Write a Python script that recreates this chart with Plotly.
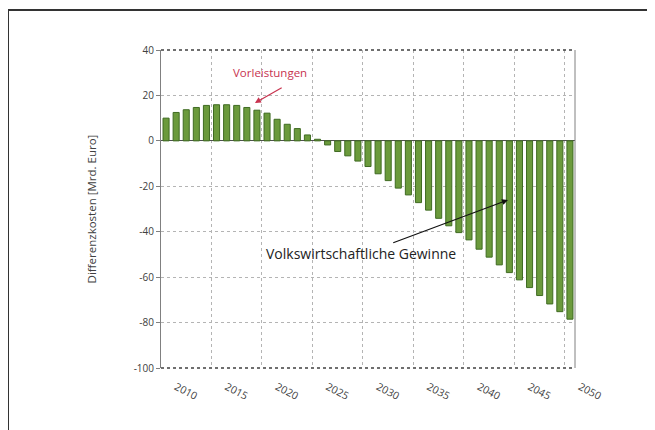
import plotly.graph_objects as go

years = list(range(2010, 2051))
values = [10.0, 12.5, 13.7, 14.7, 15.6, 15.9, 15.9, 15.6, 14.7, 13.5,
          12.2, 9.5, 7.3, 5.4, 2.6, 0.7, -1.8, -4.7, -6.6, -8.9,
          -11.3, -14.5, -17.5, -20.8, -23.8, -27.2, -30.5, -34.1, -37.4, -40.4,
          -43.6, -47.7, -51.2, -54.6, -58.0, -61.2, -64.6, -68.1, -71.8, -75.2,
          -78.5]
tick_years = [2010, 2015, 2020, 2025, 2030, 2035, 2040, 2045, 2050]
tick_labels = [str(y) for y in tick_years]
grid_years = [2014.5, 2019.5, 2024.5, 2029.5, 2034.5, 2039.5, 2044.5, 2049.5]
y_ticks = [40, 20, 0, -20, -40, -60, -80, -100]
y_labels = ["40", "20", "0", "-20", "-40", "-60", "-80", "-100"]

FONT = "Open Sans"
fig = go.Figure()
fig.add_trace(go.Bar(
    x=years, y=values, width=0.6,
    marker=dict(color="#6b9a3c", line=dict(color="#3f6b22", width=1)),
    showlegend=False,
))

fig.update_layout(
    width=647, height=422,
    margin=dict(l=153, r=80, t=42, b=62),
    paper_bgcolor="white", plot_bgcolor="white",
    font=dict(family=FONT, color="#404040"),
    xaxis=dict(
        range=[2009.5, 2050.5],
        tickmode="array", tickvals=tick_years, ticktext=tick_labels,
        tickangle=28, tickfont=dict(size=10.5, color="#404040"),
        ticklabelstandoff=10, ticklabelshift=10,
        showgrid=False, zeroline=False, showline=False, ticks="",
        minor=dict(tickmode="array", tickvals=grid_years, showgrid=True,
                   gridcolor="#b4b4b4", griddash="dot", gridwidth=1),
    ),
    yaxis=dict(
        range=[-100, 40],
        tickmode="array", tickvals=y_ticks, ticktext=y_labels,
        tickfont=dict(size=10, color="#404040"),
        showgrid=True, gridcolor="#b4b4b4", griddash="dot", gridwidth=1,
        zeroline=True, zerolinecolor="#505050", zerolinewidth=1,
        showline=True, linecolor="#808080", linewidth=1,
        ticks="outside", ticklen=4, tickcolor="#808080",
        title=dict(text="Differenzkosten [Mrd. Euro]", font=dict(size=11.5, color="#404040"),
                   standoff=34),
    ),
    shapes=[
        dict(type="line", xref="paper", yref="paper", x0=0, x1=1, y0=1, y1=1,
             line=dict(color="#404040", width=1.5, dash="dot")),
        dict(type="line", xref="paper", yref="paper", x0=0, x1=1, y0=0, y1=0,
             line=dict(color="#404040", width=1.5, dash="dot")),
        dict(type="line", xref="paper", yref="paper", x0=1, x1=1, y0=0, y1=1,
             line=dict(color="#808080", width=1)),
        dict(type="rect", xref="paper", yref="paper",
             x0=(8 - 161) / 414, x1=(648 - 161) / 414,
             y0=-0.3, y1=(368 - 10) / 318,
             line=dict(color="#333333", width=2)),
    ],
    annotations=[
        dict(x=2020.3, y=30, xref="x", yref="y", text="Vorleistungen",
             showarrow=False, font=dict(size=11.5, color="#c8334f", family=FONT)),
        dict(x=2018.8, y=16.7, xref="x", yref="y", ax=2021.6, ay=23.8,
             axref="x", ayref="y", text="", showarrow=True,
             arrowhead=2, arrowsize=1, arrowwidth=1.2, arrowcolor="#c8334f"),
        dict(x=2029.3, y=-49.8, xref="x", yref="y", text="Volkswirtschaftliche Gewinne",
             showarrow=False, font=dict(size=14, color="#222222", family=FONT)),
        dict(x=2043.86, y=-26, xref="x", yref="y", ax=2032.35, ay=-45.1,
             axref="x", ayref="y", text="", showarrow=True,
             arrowhead=2, arrowsize=1, arrowwidth=1.2, arrowcolor="#111111"),
    ],
)

fig.write_html("out.html")
